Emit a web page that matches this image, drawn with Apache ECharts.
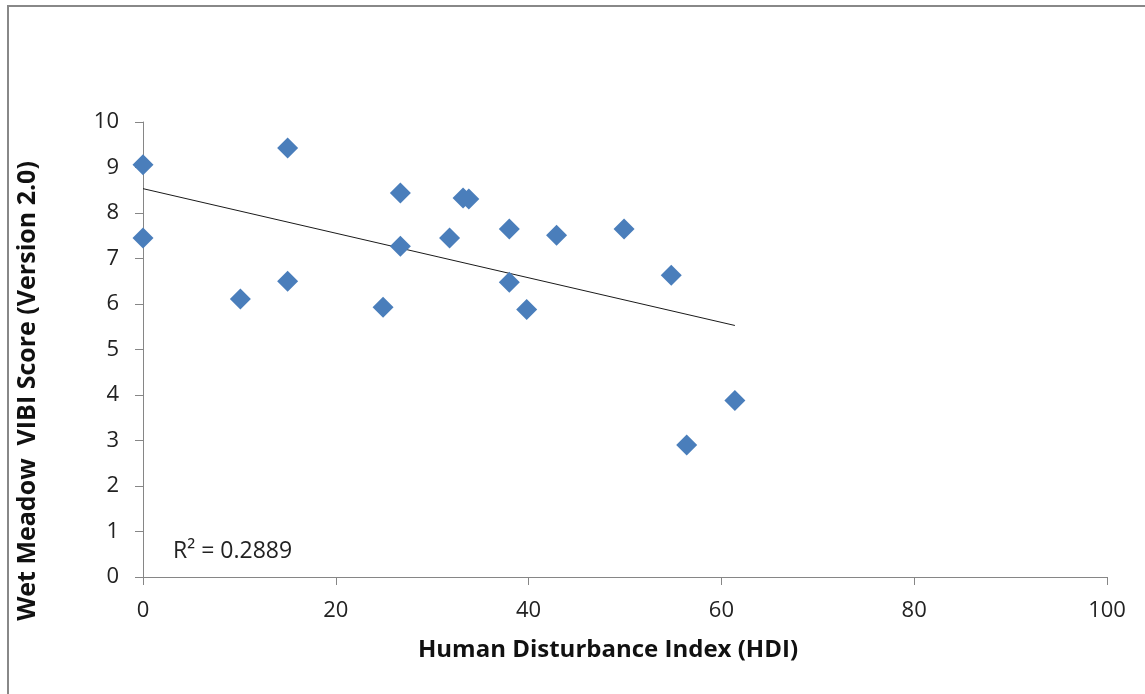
<!DOCTYPE html>
<html>
<head>
<meta charset="utf-8">
<script src="https://cdn.jsdelivr.net/npm/echarts@6/dist/echarts.min.js"></script>
<style>
  html, body { margin: 0; padding: 0; background: #fff; }
  #chart { width: 1145px; height: 694px; }
</style>
</head>
<body>
<div id="chart"></div>
<script>
// Human Disturbance Index for each wet meadow site
const hdi = [0, 0, 10.1, 15, 15, 24.9, 26.7, 26.7, 31.8, 33.2, 33.8, 38, 38, 39.8, 42.9, 49.9, 54.8, 56.4, 61.4];
// VIBI score (version 2.0) for the same sites
const vibi = [9.06, 7.45, 6.11, 9.43, 6.50, 5.93, 8.44, 7.27, 7.45, 8.33, 8.31, 7.65, 6.48, 5.88, 7.51, 7.65, 6.63, 2.90, 3.88];
const xTicks = [0, 20, 40, 60, 80, 100];
const yTicks = [0, 1, 2, 3, 4, 5, 6, 7, 8, 9, 10];
const r2Label = 'R² = 0.2889';
const xTitle = 'Human Disturbance Index (HDI)';
const yTitle = 'Wet Meadow  VIBI Score (Version 2.0)';

// least-squares linear fit
const n = hdi.length;
const mx = hdi.reduce((a, b) => a + b, 0) / n;
const my = vibi.reduce((a, b) => a + b, 0) / n;
let sxy = 0, sxx = 0;
for (let i = 0; i < n; i++) {
  sxy += (hdi[i] - mx) * (vibi[i] - my);
  sxx += (hdi[i] - mx) * (hdi[i] - mx);
}
const slope = sxy / sxx;
const intercept = my - slope * mx;
const xMin = Math.min(...hdi), xMax = Math.max(...hdi);
const trend = [[xMin, intercept + slope * xMin], [xMax, intercept + slope * xMax]];

const font = '"Open Sans", sans-serif';
const axisGray = '#868686';

const chart = echarts.init(document.getElementById('chart'), null, { renderer: 'canvas' });
chart.setOption({
  animation: false,
  backgroundColor: '#fff',
  grid: { left: 143, right: 38, top: 122, bottom: 117, containLabel: false },
  xAxis: {
    type: 'value', min: xTicks[0], max: xTicks[xTicks.length - 1], interval: 20,
    axisLine: { lineStyle: { color: axisGray, width: 1 } },
    axisTick: { show: true, length: 8, lineStyle: { color: axisGray } },
    axisLabel: { color: '#222', fontSize: 22, fontFamily: font, margin: 23 },
    splitLine: { show: false }
  },
  yAxis: {
    type: 'value', min: yTicks[0], max: yTicks[yTicks.length - 1], interval: 1,
    axisLine: { show: true, lineStyle: { color: axisGray, width: 1 } },
    axisTick: { show: true, length: 8, lineStyle: { color: axisGray } },
    axisLabel: { color: '#222', fontSize: 22, fontFamily: font, margin: 24 },
    splitLine: { show: false }
  },
  series: [
    {
      type: 'line',
      data: trend,
      symbol: 'none',
      lineStyle: { color: '#1a1a1a', width: 1 },
      z: 1
    },
    {
      type: 'scatter',
      data: hdi.map((x, i) => [x, vibi[i]]),
      symbol: 'diamond',
      symbolSize: 21,
      itemStyle: { color: '#4A7EBB', opacity: 1 },
      z: 2
    }
  ],
  graphic: [
    {
      type: 'rect', silent: true, z: -1,
      shape: { x: 8, y: 6, width: 1200, height: 800 },
      style: { fill: 'none', stroke: '#888', lineWidth: 2 }
    },
    {
      type: 'text', x: 173, y: 551,
      style: { text: r2Label, fontSize: 23, fontFamily: font, fill: '#222', verticalAlign: 'middle' }
    },
    {
      type: 'text', x: 608, y: 650,
      style: { text: xTitle, fontSize: 24, fontWeight: 'bold', fontFamily: font, fill: '#111', align: 'center', verticalAlign: 'middle' }
    },
    {
      type: 'text', x: 28, y: 391, rotation: Math.PI / 2,
      style: { text: yTitle, fontSize: 25, fontWeight: 'bold', fontFamily: font, fill: '#111', align: 'center', verticalAlign: 'middle' }
    }
  ]
});
</script>
</body>
</html>
